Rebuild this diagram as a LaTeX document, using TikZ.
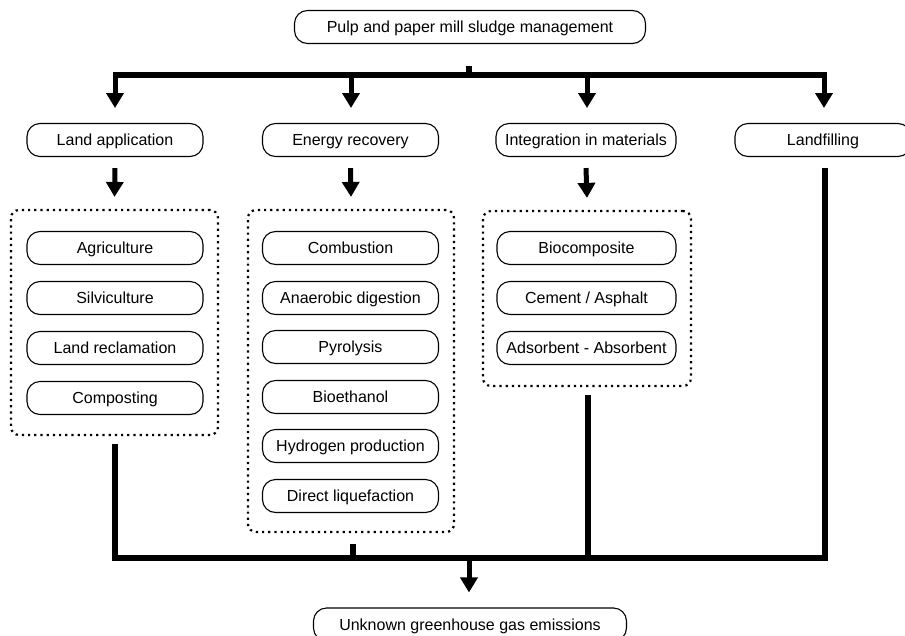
\documentclass[tikz,border=0pt]{standalone}
\usepackage{fontspec}
\setmainfont{Liberation Sans}
\usetikzlibrary{arrows.meta}
\begin{document}
\begin{tikzpicture}[x=1pt,y=-1pt,
  every node/.style={font=\fontsize{16}{19}\selectfont},
  pill/.style={draw, line width=1.1pt, rounded corners=13pt, minimum height=33pt, inner sep=0pt, text depth=0pt, anchor=center},
  wpill/.style={pill, minimum width=176pt},
  group/.style={draw, line width=2.2pt, dash pattern=on 2.2pt off 4pt, rounded corners=8pt, inner sep=0pt},
  thick line/.style={line width=5.5pt},
  arr/.style={line width=5pt, -{Triangle[width=17pt,length=15pt]}}]
\useasboundingbox (0,0) rectangle (905,635);

% top
\node[pill, minimum width=351pt] (top) at (470,27) {Pulp and paper mill sludge management};

% level 2
\node[wpill] (la) at (115,140) {Land application};
\node[wpill] (er) at (350.5,140) {Energy recovery};
\node[pill, minimum width=180pt] (im) at (586,140) {Integration in materials};
\node[wpill] (lf) at (823,140) {Landfilling};

% groups
\node[group, minimum width=207pt, minimum height=225pt] (g1) at (114.5,322.5) {};
\node[group, minimum width=206pt, minimum height=322pt] (g2) at (351,371) {};
\node[group, minimum width=208pt, minimum height=175pt] (g3) at (587,298.5) {};

% inner
\node[wpill] (a1) at (115,248) {Agriculture};
\node[wpill] (a2) at (115,298) {Silviculture};
\node[wpill] (a3) at (115,348) {Land reclamation};
\node[wpill] (a4) at (115,398) {Composting};

\node[wpill] (b1) at (350.5,248) {Combustion};
\node[wpill] (b2) at (350.5,298) {Anaerobic digestion};
\node[wpill] (b3) at (350.5,347) {Pyrolysis};
\node[wpill] (b4) at (350.5,397) {Bioethanol};
\node[wpill] (b5) at (350.5,446) {Hydrogen production};
\node[wpill] (b6) at (350.5,496) {Direct liquefaction};

\node[pill, minimum width=179pt] (c1) at (586.5,248) {Biocomposite};
\node[pill, minimum width=179pt] (c2) at (586.5,298) {Cement / Asphalt};
\node[pill, minimum width=179pt] (c3) at (586.5,348) {Adsorbent - Absorbent};

% bottom
\node[pill, minimum width=313pt] (bot) at (470,624.5) {Unknown greenhouse gas emissions};

% coordinates
\coordinate (s0) at (469,66);
\coordinate (busL) at (113,75);
\coordinate (busR) at (827,75);
\coordinate (t1) at (115,75);
\coordinate (t2) at (351,75);
\coordinate (t3) at (587,75);
\coordinate (t4) at (824,75);
\coordinate (bl) at (115,558);
\coordinate (bm) at (353,558);
\coordinate (br) at (588,558);
\coordinate (bf) at (825,558);
\coordinate (bc) at (469,558);

% top distribution
\draw[thick line] (s0) -- (469,75);
\draw[thick line] (busL) -- (busR);
\draw[arr] (t1) -- (115,108);
\draw[arr] (t2) -- (351,108);
\draw[arr] (t3) -- (587,108);
\draw[arr] (t4) -- (824,108);

% level-2 to groups
\draw[arr] ([yshift=-11pt]la.south) -- ([yshift=12pt]g1.north);
\draw[arr] ([yshift=-11pt]er.south) -- ([yshift=12pt]g2.north);
\draw[arr] ([yshift=-11pt]im.south) -- ([yshift=12pt]g3.north);

% collection
\draw[thick line, line join=miter] (115,444) -- (bl) -- (bf) -- (825,168);
\draw[thick line] ([yshift=-11pt]g2.south -| bm) -- (bm);
\draw[thick line] (588,395) -- (br);
\draw[arr] (bc) -- ([yshift=15pt]bot.north -| bc);
\end{tikzpicture}
\end{document}
